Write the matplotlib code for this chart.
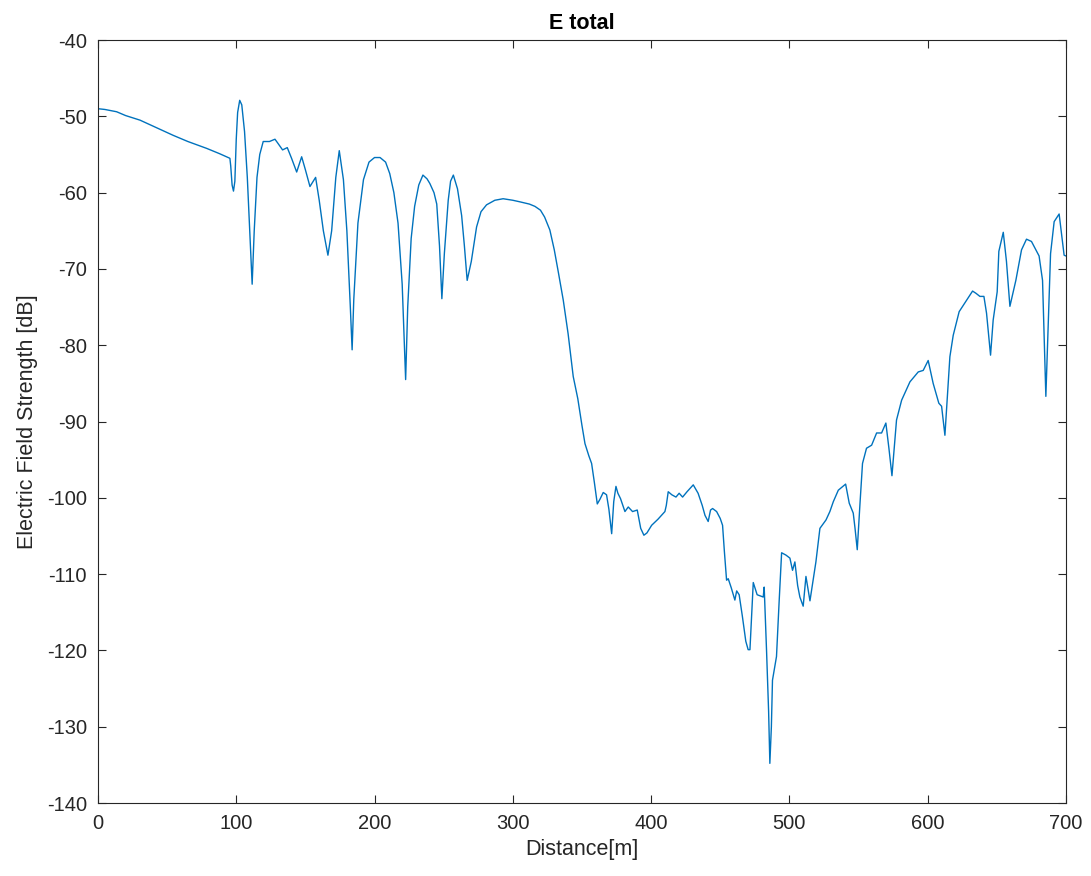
import matplotlib.pyplot as plt

plt.rcParams['font.family'] = ['Liberation Sans', 'DejaVu Sans']
plt.rcParams['axes.unicode_minus'] = False

# distance [m] and total field [dB]
distance = [
    0, 5, 13.5, 20, 30.4, 40, 54.5, 65, 78.6, 88, 95.4,
    96, 97, 98, 99, 100, 101, 102.5, 104, 106, 108, 110, 111.5, 113, 115, 117,
    119.5, 124, 128, 130, 133.5, 136.9, 140, 143.7, 147.3, 150, 153.3, 157.4,
    160, 163, 166.3, 169, 172, 174.5, 177.5, 180, 182.5, 183.8, 185, 188, 192,
    196, 200, 204, 208, 211, 214, 217, 220, 222.5, 224, 226.5, 229, 232, 235,
    238, 240, 243, 245, 247, 248.7, 250.5, 253.3, 255, 257, 260, 263, 265, 267,
    270, 273.8, 277, 281, 287, 293, 300, 305, 312, 316, 320, 323, 326.8, 330,
    333, 336.5, 340, 343.7, 347, 350, 352.2, 355, 357, 359, 361.1, 363, 365.4,
    367.8, 369.5, 371.5, 373, 374.6, 376, 377.9, 381.1, 383.5, 386.6, 390,
    392.5, 394.8, 397, 400.4, 405, 410, 411, 412.4, 415, 418, 420.3, 422.8,
    426, 430.5, 434, 437, 439, 441.3, 443, 444.5, 447.4, 450, 451.7, 453,
    454.6, 455.8, 458, 460.6, 461.9, 463.7, 466, 468.5, 470.2, 471.5, 473.9,
    476.7, 481.1, 481.8, 483.5, 485, 485.9, 487, 487.8, 490.7, 492.5, 494.4,
    497.5, 500.4, 502.3, 504, 506, 507.6, 510, 512, 514.9, 519.2, 522.1, 526.5,
    529.3, 531.8, 535.4, 538, 540.7, 543.3, 546.2, 547.5, 549.1, 551, 552.9,
    555.8, 559.5, 563.1, 566.7, 569.8, 572, 574.2, 577.5, 581.2, 587.2, 593.2,
    596.8, 600.4, 604, 608.1, 610.1, 612.5, 616.1, 618.5, 622.8, 628.2, 632.5,
    635, 637.8, 640.7, 642.6, 645.5, 647.4, 650.3, 651.5, 654.7, 657, 659.5,
    663.8, 667.9, 671.5, 675.1, 680.6, 683.1, 685.5, 688.9, 691.5, 695.1,
    698.7, 700,
]
e_total = [
    -49.0, -49.1, -49.4, -49.9, -50.5, -51.3, -52.5, -53.3, -54.2, -54.9, -55.5,
    -56.5, -59.0, -59.8, -58.5, -53.0, -49.5, -47.9, -48.5, -52.0, -58.0, -66.0, -72.0, -65.0, -58.0, -55.0,
    -53.3, -53.3, -53.0, -53.5, -54.4, -54.1, -55.5, -57.3, -55.3, -57.0, -59.2, -58.0,
    -61.0, -65.0, -68.2, -65.0, -58.0, -54.5, -58.3, -65.0, -75.0, -80.6, -74.0, -64.0, -58.3,
    -56.0, -55.4, -55.4, -56.0, -57.5, -60.0, -64.0, -72.0, -84.5, -75.0, -66.0, -61.8, -59.0, -57.7,
    -58.2, -58.8, -60.0, -61.5, -67.0, -73.9, -68.0, -61.0, -58.5, -57.7, -59.5, -63.0, -67.0, -71.5,
    -69.0, -64.5, -62.5, -61.6, -61.0, -60.8, -61.0, -61.2, -61.5, -61.8, -62.3, -63.2, -64.9, -67.5,
    -70.5, -74.1, -78.5, -84.1, -87.0, -90.5, -92.9, -94.5, -95.5, -98.0, -100.8, -100.2, -99.3,
    -99.6, -101.5, -104.7, -100.5, -98.5, -99.4, -100.1, -101.8, -101.2, -101.8, -101.6,
    -104.0, -104.9, -104.6, -103.6, -102.8, -101.8, -101.0, -99.2, -99.6, -99.9, -99.4, -99.9,
    -99.2, -98.3, -99.4, -101.0, -102.3, -103.1, -101.6, -101.4, -101.8, -102.7, -103.6, -107.0,
    -110.8, -110.6, -111.8, -113.4, -112.2, -112.7, -115.5, -118.8, -119.9, -119.9, -111.1,
    -112.7, -113.0, -111.7, -120.0, -128.0, -134.8, -130.0, -123.9, -120.8, -114.0, -107.2,
    -107.5, -107.9, -109.5, -108.4, -111.5, -113.0, -114.2, -110.3, -113.5, -108.4, -104.0, -102.9,
    -101.8, -100.5, -99.0, -98.6, -98.2, -100.7, -102.0, -104.0, -106.8, -101.0, -95.5,
    -93.5, -93.1, -91.5, -91.5, -90.2, -93.5, -97.1, -89.8, -87.2, -84.8, -83.5,
    -83.3, -82.0, -85.0, -87.6, -88.0, -91.8, -81.5, -78.7, -75.6, -74.1, -72.9,
    -73.2, -73.6, -73.6, -75.8, -81.3, -76.7, -73.0, -67.7, -65.2, -69.0, -74.9,
    -71.5, -67.5, -66.1, -66.4, -68.3, -71.5, -86.7, -68.0, -63.8, -62.8,
    -68.2, -68.3,
]

ax_color = (0.15, 0.15, 0.15)

fig = plt.figure(figsize=(10.91, 8.76), dpi=100)
ax = fig.add_axes([0.0898, 0.0833, 0.8872, 0.8710])

ax.plot(distance, e_total, color='#0072BD', linewidth=1.0)

ax.set_xlim(0, 700)
ax.set_ylim(-140, -40)
ax.set_xticks(range(0, 701, 100))
ax.set_yticks(range(-140, -39, 10))

ax.tick_params(direction='in', top=True, right=True, length=6, width=0.8,
               labelsize=14.5, colors=ax_color, pad=8)
for s in ax.spines.values():
    s.set_color(ax_color)
    s.set_linewidth(0.8)

ax.set_title('E total', fontsize=15.5, fontweight='bold', pad=8)
ax.set_xlabel('Distance[m]', fontsize=15.5, color=ax_color, labelpad=4)
ax.set_ylabel('Electric Field Strength [dB]', fontsize=15.5, color=ax_color, labelpad=6)

fig.savefig('out.png', dpi=100)
